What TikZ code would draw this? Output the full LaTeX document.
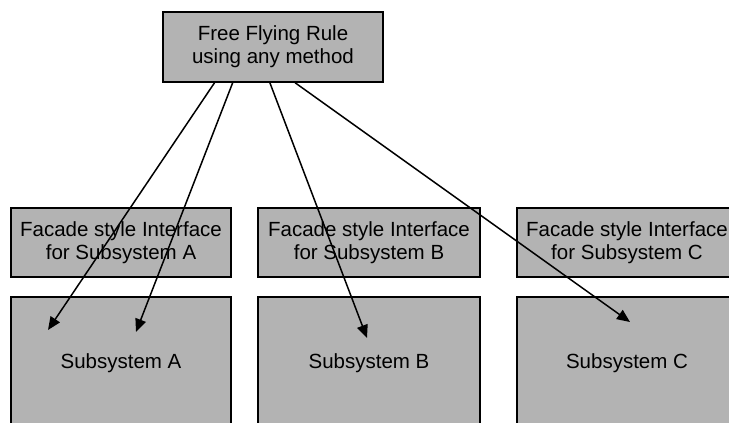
\documentclass[tikz,border=0pt]{standalone}
\usepackage{fontspec}
\setmainfont{Liberation Sans}
\usetikzlibrary{arrows.meta,calc}
\definecolor{boxgray}{RGB}{179,179,179}
\tikzset{
  gbox/.style={draw=black, fill=boxgray, line width=1.6pt, inner sep=0pt, align=center,
    font=\fontsize{20.5}{23}\selectfont},
  flow/.style={line width=1.5pt, -{Triangle[length=13pt,width=11pt]}}
}
\begin{document}
\begin{tikzpicture}[x=1pt,y=-1pt]
\useasboundingbox (0,0) rectangle (729,423);
\clip (0,0) rectangle (729,423);
\node[gbox, minimum width=220pt, minimum height=70pt] (top) at (273,47) {Free Flying Rule\\using any method};
\node[gbox, minimum width=220pt, minimum height=69pt] (fa) at (121,242.5) {Facade style Interface\\for Subsystem A};
\node[gbox, minimum width=222pt, minimum height=69pt] (fb) at (369,242.5) {Facade style Interface\\for Subsystem B};
\node[gbox, minimum width=220pt, minimum height=69pt] (fc) at (627,242.5) {Facade style Interface\\for Subsystem C};
\node[gbox, minimum width=220pt, minimum height=133pt] (sa) at (121,363.5) {Subsystem A};
\node[gbox, minimum width=222pt, minimum height=133pt] (sb) at (369,363.5) {Subsystem B};
\node[gbox, minimum width=220pt, minimum height=133pt] (sc) at (627,363.5) {Subsystem C};
\coordinate (ea1) at (48,330);
\coordinate (ea2) at (136,332);
\coordinate (eb) at (367,338);
\coordinate (ec) at (630,322);
\draw[flow] ($(top.south west)!0.236!(top.south east)$) -- (ea1);
\draw[flow] ($(top.south west)!0.318!(top.south east)$) -- (ea2);
\draw[flow] ($(top.south west)!0.486!(top.south east)$) -- (eb);
\draw[flow] ($(top.south west)!0.6!(top.south east)$) -- (ec);
\end{tikzpicture}
\end{document}
